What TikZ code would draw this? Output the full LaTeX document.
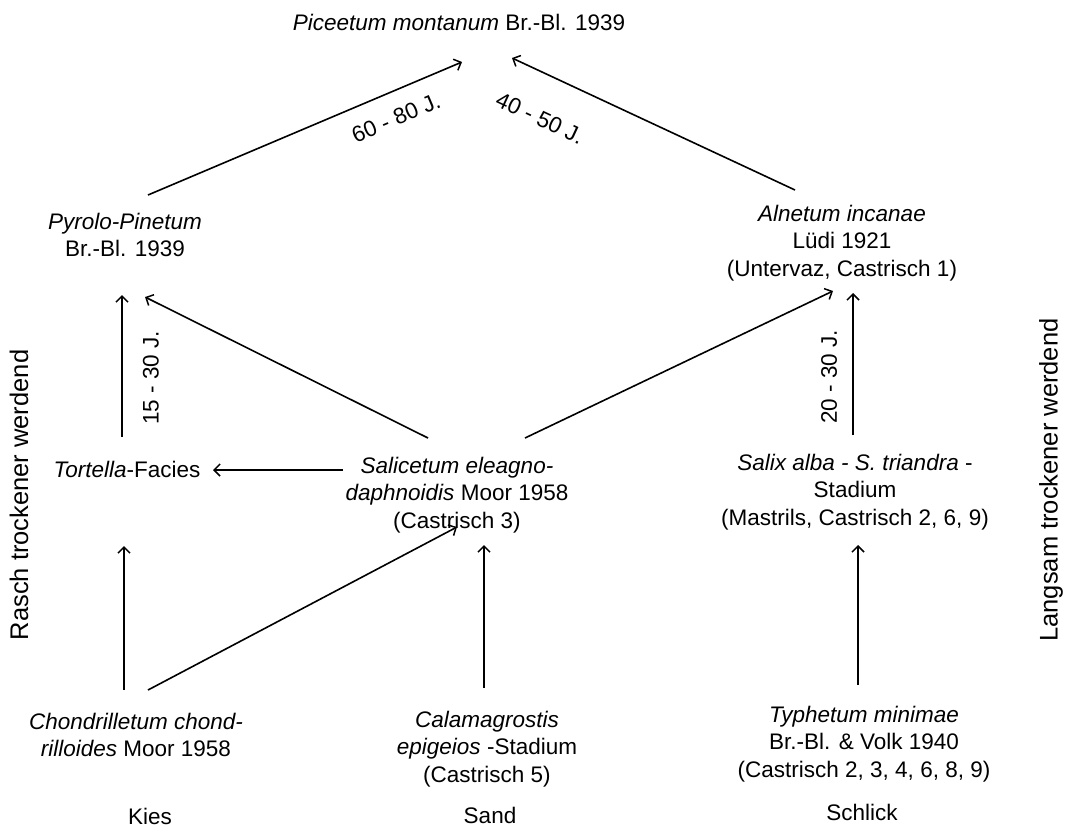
\documentclass[tikz,border=0pt]{standalone}
\usepackage{fontspec}
\setmainfont{Liberation Sans}
\usetikzlibrary{arrows.meta,calc}
\tikzset{
  txt/.style={align=center,inner sep=0pt,font=\fontsize{22.5}{27.5}\selectfont},
  side/.style={inner sep=0pt,rotate=90,font=\fontsize{25.5}{30}\selectfont},
  arr/.style={line width=1.6pt,-{Straight Barb[length=6pt,width=12pt,line width=1.5pt]}},
  lab/.style={inner sep=0pt,font=\fontsize{22.5}{27.5}\selectfont}
}
\begin{document}
\begin{tikzpicture}[x=1pt,y=-1pt]
\useasboundingbox (0,0) rectangle (1065,839);
\node[txt] (pic) at (459,22) {\textit{Piceetum montanum} Br.-Bl. 1939};
\node[txt] (pyr) at (125,235) {\textit{Pyrolo-Pinetum}\\Br.-Bl. 1939};
\node[txt] (aln) at (842,243) {\textit{Alnetum incanae}\\Lüdi 1921\\(Untervaz, Castrisch 1)};
\node[txt] (tort) at (127,469) {\textit{Tortella}-Facies};
\node[txt] (sal) at (457,495) {\textit{Salicetum eleagno-}\\\textit{daphnoidis} Moor 1958\\(Castrisch 3)};
\node[txt] (salix) at (855,492) {\textit{Salix alba - S. triandra} -\\Stadium\\(Mastrils, Castrisch 2, 6, 9)};
\node[txt] (chon) at (136,735) {\textit{Chondrilletum chond-}\\\textit{rilloides} Moor 1958};
\node[txt] (cala) at (487,749) {\textit{Calamagrostis}\\\textit{epigeios} -Stadium\\(Castrisch 5)};
\node[txt] (typ) at (864,744) {\textit{Typhetum minimae}\\Br.-Bl. \& Volk 1940\\(Castrisch 2, 3, 4, 6, 8, 9)};
\node[txt] (kies) at (150,816) {Kies};
\node[txt] (sand) at (490,815) {Sand};
\node[txt] (schlick) at (862,812) {Schlick};
\node[side] (rasch) at (19,495) {Rasch trockener werdend};
\node[side] (langsam) at (1051,480) {Langsam trockener werdend};

\draw[arr] ($(pyr.center)+(23,-40)$) -- ($(pic.center)+(3,40)$);
\draw[arr] ($(aln.center)+(-47,-53)$) -- ($(pic.center)+(53,36)$);
\draw[arr] ($(tort.center)+(-5,-32)$) -- ($(pyr.center)+(-3,60)$);
\draw[arr] ($(sal.center)+(-29,-57)$) -- ($(pyr.center)+(20,62)$);
\draw[arr] ($(sal.center)+(68,-57)$) -- ($(aln.center)+(-9,48)$);
\draw[arr] ($(salix.center)+(-2,-57)$) -- ($(aln.center)+(11,50)$);
\draw[arr] ($(sal.center)+(-114,-25)$) -- ($(tort.center)+(86,1)$);
\draw[arr] ($(chon.center)+(-12,-45)$) -- ($(tort.center)+(-3,77)$);
\draw[arr] ($(chon.center)+(12,-45)$) -- ($(sal.center)+(0,32)$);
\draw[arr] ($(cala.center)+(-3,-61)$) -- ($(sal.center)+(27,50)$);
\draw[arr] ($(typ.center)+(-6,-59)$) -- ($(salix.center)+(3,53)$);

\node[lab,rotate=23] (l1) at (396,118) {60 - 80 J.};
\node[lab,rotate=-25] (l2) at (540,118) {40 - 50 J.};
\node[lab,rotate=90] (l3) at (151,378) {15 - 30 J.};
\node[lab,rotate=90] (l4) at (829,377) {20 - 30 J.};
\end{tikzpicture}
\end{document}
